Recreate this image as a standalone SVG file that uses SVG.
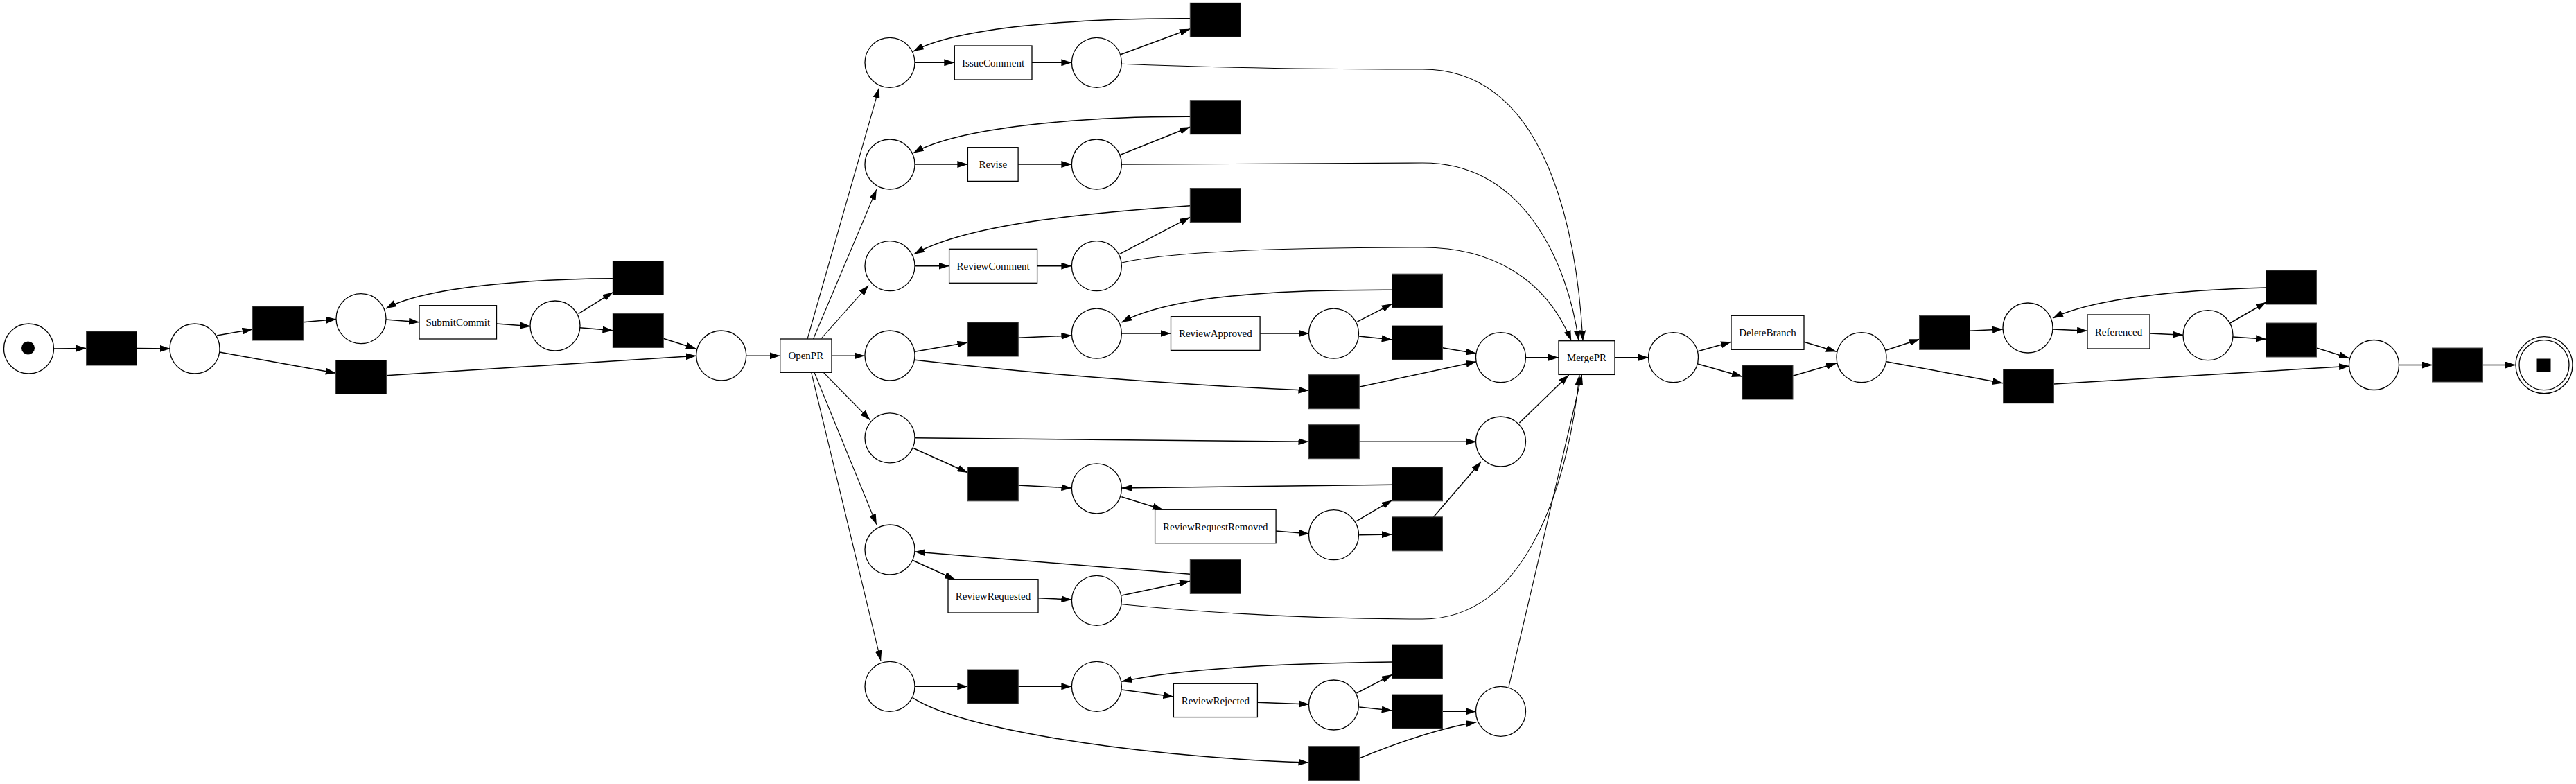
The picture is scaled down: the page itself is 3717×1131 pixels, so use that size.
<svg xmlns="http://www.w3.org/2000/svg" width="3717" height="1131" viewBox="0 0 3717 1131">
<defs>
<style>
.p{fill:#fff;stroke:#000;stroke-width:1.3}
.t{fill:#000;stroke:#444;stroke-width:1}
.b{fill:#fff;stroke:#000;stroke-width:1.3}
.l{font-family:"Liberation Serif","Times New Roman",serif;font-size:15px;fill:#000;text-anchor:middle}
.e{fill:none;stroke:#000;stroke-width:1.5;marker-end:url(#a)}
.f{fill:none;stroke:#000;stroke-width:1.1;marker-end:url(#a)}
</style>
<marker id="a" markerUnits="userSpaceOnUse" markerWidth="15" markerHeight="10" refX="15" refY="5" orient="auto"><path d="M0,0 L15,5 L0,10 z" fill="#000"/></marker>
</defs>
<rect width="3717" height="1131" fill="#fff"/>
<g id="connectors">
<path class="e" d="M77,503 L124.7,502.5"/>
<path class="e" d="M198,502.5 L245.7,503"/>
<path class="e" d="M313,484 L364.5,475"/>
<path class="e" d="M316.8,508 L484.8,538.3"/>
<path class="e" d="M437.8,464.7 L485.5,460.5"/>
<path class="e" d="M556.7,461 L605,464.7"/>
<path class="e" d="M716.5,467 L765.7,470.7"/>
<path class="e" d="M834.6,452.7 L884.5,421.7"/>
<path class="e" d="M836.8,472.7 L884.5,476.7"/>
<path class="e" d="M884.5,401.7 C800,402 620,410 557,445"/>
<path class="e" d="M957,488.3 L1004.8,503.3"/>
<path class="e" d="M557.4,541.7 L1004.8,513.3"/>
<path class="e" d="M1076.6,513.3 L1125.7,513.3"/>
<path class="f" d="M1165,489 L1268.6,126.7"/>
<path class="f" d="M1173.5,489 L1264.8,273.3"/>
<path class="f" d="M1184.4,489 L1253.3,411.7"/>
<path class="e" d="M1200,513.3 L1247.7,513.3"/>
<path class="f" d="M1188.3,537.3 L1255.6,606"/>
<path class="f" d="M1175,537.3 L1264.8,756.7"/>
<path class="f" d="M1170.7,537.3 L1271,953.3"/>
<path class="e" d="M1320,90.3 L1377.3,90.3"/>
<path class="e" d="M1489,90.3 L1546.4,90.3"/>
<path class="e" d="M1616.8,78.7 L1717,41.7"/>
<path class="e" d="M1717,26.7 C1550,26 1380,40 1318,74"/>
<path class="e" d="M1320,237 L1396.4,237"/>
<path class="e" d="M1469,237 L1546.4,237"/>
<path class="e" d="M1616.8,223.3 L1717,183.3"/>
<path class="e" d="M1717,168.3 C1550,168 1380,185 1318,220.7"/>
<path class="e" d="M1320,383.7 L1369.6,383.7"/>
<path class="e" d="M1496.7,383.7 L1546.4,383.7"/>
<path class="e" d="M1615.3,366.7 L1717,313.3"/>
<path class="e" d="M1717,296.7 C1600,305 1400,320 1319,366.7"/>
<path class="f" d="M1618.4,92.3 C1760,98 1900,100 2053,100 C2230,100 2275,330 2284,491.7"/>
<path class="f" d="M1618.4,237.3 C1800,236 1950,235 2053,235 C2200,235 2262,380 2278,491.7"/>
<path class="f" d="M1618.4,379 C1700,360 1900,357 2053,357 C2150,357 2230,400 2267.3,491.7"/>
<path class="e" d="M1320,507.3 L1396.4,494"/>
<path class="e" d="M1320,519.3 C1500,540 1700,555 1888.5,563.3"/>
<path class="e" d="M1469,487.3 L1546.4,484"/>
<path class="e" d="M1618.4,481 L1689.5,481"/>
<path class="e" d="M1818.1,481 L1889.3,481"/>
<path class="e" d="M1958,464.3 L2008.7,438.3"/>
<path class="e" d="M1961,485 L2008.7,490"/>
<path class="e" d="M2008.7,418.3 C1900,418 1700,420 1618.4,465"/>
<path class="e" d="M2081.4,501.7 L2130.3,510"/>
<path class="e" d="M1961.2,558.3 L2130.3,521.7"/>
<path class="e" d="M2200.8,515.7 L2249,515.7"/>
<path class="e" d="M1320,631.7 L1888.5,637.3"/>
<path class="e" d="M1961.2,637.3 L2130.3,637.3"/>
<path class="e" d="M2192.4,610 L2263.6,541"/>
<path class="e" d="M1318.4,646.7 L1396.4,681.7"/>
<path class="e" d="M1469,700 L1546.4,704"/>
<path class="e" d="M1618.4,716.7 L1678,735.3"/>
<path class="e" d="M1841,766 L1889.3,770"/>
<path class="e" d="M1957.4,751.7 L2008.7,721.7"/>
<path class="e" d="M1961.2,771.7 L2008.7,771"/>
<path class="e" d="M2008.7,699.3 L1618.4,704"/>
<path class="e" d="M2068.4,746 L2137.2,666"/>
<path class="e" d="M1316.8,808.3 L1378,836"/>
<path class="e" d="M1498.2,862.7 L1546.4,865"/>
<path class="e" d="M1618.4,859 L1717,838.3"/>
<path class="e" d="M1717,828.3 L1320,796"/>
<path class="f" d="M1618.4,871.7 C1800,890 1950,893 2053,893 C2210,893 2265,680 2279,541"/>
<path class="e" d="M1320,990.3 L1396.4,990.3"/>
<path class="e" d="M1469,990.3 L1546.4,990.3"/>
<path class="e" d="M1618.4,995 L1693.4,1005"/>
<path class="e" d="M1814.3,1013.3 L1889.3,1016"/>
<path class="e" d="M1957.4,1000 L2008.7,973.3"/>
<path class="e" d="M1961.2,1020 L2008.7,1025"/>
<path class="e" d="M2008.7,955 C1850,957 1700,965 1618.4,983.3"/>
<path class="e" d="M2081.4,1026.3 L2130.3,1026.3"/>
<path class="e" d="M1316.8,1006.7 C1400,1060 1700,1095 1888.5,1100"/>
<path class="e" d="M1961.2,1094 C2020,1070 2080,1050 2130.3,1041.7"/>
<path class="f" d="M2177,990.7 L2282.6,540.5"/>
<path class="e" d="M2330,515.7 L2379,515.7"/>
<path class="e" d="M2450,506.7 L2498,493.3"/>
<path class="e" d="M2450,525 L2514,543.3"/>
<path class="e" d="M2603,493.3 L2650,507.3"/>
<path class="e" d="M2587,542.3 L2650,524"/>
<path class="e" d="M2722,505 L2770,489.3"/>
<path class="e" d="M2722,521.7 L2890,552.7"/>
<path class="e" d="M2842,477.3 L2890,475"/>
<path class="e" d="M2962,475 L3012,477.3"/>
<path class="e" d="M3102,481 L3150,483.3"/>
<path class="e" d="M3218,466 L3270,436"/>
<path class="e" d="M3222,486 L3270,489.3"/>
<path class="e" d="M3270,415 C3150,418 3020,430 2962,459"/>
<path class="e" d="M3342,501.7 L3390,516.7"/>
<path class="e" d="M2964,554 L3390,528.3"/>
<path class="e" d="M3461,526.5 L3510,526.5"/>
<path class="e" d="M3582,526.5 L3630,526.5"/>
</g>
<g id="p_start"><circle class="p" cx="41.5" cy="503" r="36"/><circle cx="40.5" cy="502" r="9.5" fill="#000"/></g>
<g id="t1"><rect class="t" x="124.5" y="478" width="73" height="49"/></g>
<g id="p1"><circle class="p" cx="281" cy="503" r="36"/></g>
<g id="t2"><rect class="t" x="364.5" y="442" width="73" height="49"/></g>
<g id="t3"><rect class="t" x="484.5" y="519.5" width="73" height="49"/></g>
<g id="p2"><circle class="p" cx="521" cy="459.7" r="36"/></g>
<g id="n_submit"><rect class="b" x="605" y="440.7" width="111.5" height="48.3"/><text class="l" x="660.8" y="470">SubmitCommit</text></g>
<g id="p3"><circle class="p" cx="801" cy="470" r="36"/></g>
<g id="t4"><rect class="t" x="884.3" y="376.5" width="73" height="49"/></g>
<g id="t5"><rect class="t" x="884.3" y="452.5" width="73" height="49"/></g>
<g id="p4"><circle class="p" cx="1040.7" cy="513" r="36"/></g>
<g id="n_openpr"><rect class="b" x="1125.7" y="489" width="74.3" height="48.3"/><text class="l" x="1162.8" y="518">OpenPR</text></g>
<g id="p_ic_in"><circle class="p" cx="1284" cy="90.3" r="36"/></g>
<g id="n_issue"><rect class="b" x="1377.3" y="66" width="111.7" height="49"/><text class="l" x="1433.1" y="95.5">IssueComment</text></g>
<g id="p_ic_out"><circle class="p" cx="1582.4" cy="90.3" r="36"/></g>
<g id="t_ic"><rect class="t" x="1717.3" y="4.3" width="73" height="49"/></g>
<g id="p_rv_in"><circle class="p" cx="1284" cy="237" r="36"/></g>
<g id="n_revise"><rect class="b" x="1396.4" y="212.7" width="72.7" height="48.7"/><text class="l" x="1432.8" y="242">Revise</text></g>
<g id="p_rv_out"><circle class="p" cx="1582.4" cy="237" r="36"/></g>
<g id="t_rv"><rect class="t" x="1717.3" y="144.7" width="73" height="49"/></g>
<g id="p_rc_in"><circle class="p" cx="1284" cy="383.7" r="36"/></g>
<g id="n_rc"><rect class="b" x="1369.6" y="359.3" width="127" height="49"/><text class="l" x="1433.1" y="389">ReviewComment</text></g>
<g id="p_rc_out"><circle class="p" cx="1582.4" cy="383.7" r="36"/></g>
<g id="t_rc"><rect class="t" x="1717.3" y="271.5" width="73" height="49"/></g>
<g id="p_ra"><circle class="p" cx="1284" cy="513" r="36"/></g>
<g id="t_ra_e"><rect class="t" x="1396.3" y="465" width="73" height="49"/></g>
<g id="p_ra_in"><circle class="p" cx="1582.4" cy="481.2" r="36"/></g>
<g id="n_ra"><rect class="b" x="1689.5" y="456.7" width="128.6" height="48.7"/><text class="l" x="1753.8" y="486">ReviewApproved</text></g>
<g id="p_ra_out"><circle class="p" cx="1924.5" cy="481.2" r="36"/></g>
<g id="t_ra_top"><rect class="t" x="2008.5" y="395.2" width="73" height="49"/></g>
<g id="t_ra_mid"><rect class="t" x="2008.5" y="470" width="73" height="49"/></g>
<g id="t_ra_skip"><rect class="t" x="1888.3" y="540.7" width="73" height="49"/></g>
<g id="p_ra_m"><circle class="p" cx="2165.5" cy="515.7" r="36"/></g>
<g id="p_rrr"><circle class="p" cx="1284" cy="631.8" r="36"/></g>
<g id="t_rrr_skip"><rect class="t" x="1888.3" y="612.7" width="73" height="49"/></g>
<g id="p_rrr_m"><circle class="p" cx="2165.5" cy="637" r="36"/></g>
<g id="t_rrr_e"><rect class="t" x="1396.3" y="673.8" width="73" height="49"/></g>
<g id="p_rrr_in"><circle class="p" cx="1582.4" cy="704.8" r="36"/></g>
<g id="t_rrr_top"><rect class="t" x="2008.5" y="673.8" width="73" height="49"/></g>
<g id="n_rrr"><rect class="b" x="1666.6" y="735.3" width="174.5" height="48.4"/><text class="l" x="1753.8" y="764.5">ReviewRequestRemoved</text></g>
<g id="p_rrr_out"><circle class="p" cx="1924.5" cy="771.7" r="36"/></g>
<g id="t_rrr_mid"><rect class="t" x="2008.5" y="745.8" width="73" height="49"/></g>
<g id="p_rr"><circle class="p" cx="1284" cy="793" r="36"/></g>
<g id="n_rr"><rect class="b" x="1368" y="835.7" width="130" height="48.3"/><text class="l" x="1433" y="865">ReviewRequested</text></g>
<g id="p_rr_out"><circle class="p" cx="1582.4" cy="866.3" r="36"/></g>
<g id="t_rr"><rect class="t" x="1717.3" y="807.3" width="73" height="49"/></g>
<g id="p_rj"><circle class="p" cx="1284" cy="990.3" r="36"/></g>
<g id="t_rj_e"><rect class="t" x="1396.3" y="966" width="73" height="49"/></g>
<g id="p_rj_in"><circle class="p" cx="1582.4" cy="990.3" r="36"/></g>
<g id="n_rj"><rect class="b" x="1693.4" y="986.3" width="121" height="48.3"/><text class="l" x="1753.8" y="1015.5">ReviewRejected</text></g>
<g id="p_rj_out"><circle class="p" cx="1924.5" cy="1017" r="36"/></g>
<g id="t_rj_top"><rect class="t" x="2008.5" y="930" width="73" height="49"/></g>
<g id="t_rj_mid"><rect class="t" x="2008.5" y="1002" width="73" height="49"/></g>
<g id="p_rj_m"><circle class="p" cx="2165.5" cy="1026.3" r="36"/></g>
<g id="t_rj_skip"><rect class="t" x="1888.3" y="1076.7" width="73" height="49"/></g>
<g id="n_merge"><rect class="b" x="2249" y="491.7" width="81" height="48.7"/><text class="l" x="2289.5" y="521">MergePR</text></g>
<g id="p_m"><circle class="p" cx="2414.5" cy="515.7" r="36"/></g>
<g id="n_db"><rect class="b" x="2498" y="455.3" width="105" height="49"/><text class="l" x="2550.5" y="485">DeleteBranch</text></g>
<g id="t_db"><rect class="t" x="2514" y="527" width="73" height="49"/></g>
<g id="p_db"><circle class="p" cx="2686" cy="515.7" r="36"/></g>
<g id="t_ref_e"><rect class="t" x="2769.5" y="455.3" width="73" height="49"/></g>
<g id="p_ref_in"><circle class="p" cx="2926" cy="473" r="36"/></g>
<g id="n_ref"><rect class="b" x="3012" y="454" width="90" height="49"/><text class="l" x="3057" y="483.5">Referenced</text></g>
<g id="p_ref_out"><circle class="p" cx="3186" cy="483.7" r="36"/></g>
<g id="t_ref_top"><rect class="t" x="3269.5" y="390" width="73" height="49"/></g>
<g id="t_ref_mid"><rect class="t" x="3269.5" y="466" width="73" height="49"/></g>
<g id="t_ref_skip"><rect class="t" x="2890.5" y="532.7" width="73" height="49"/></g>
<g id="p_fm"><circle class="p" cx="3425.5" cy="526.5" r="36"/></g>
<g id="t_last"><rect class="t" x="3509.5" y="502" width="73" height="49"/></g>
<g id="p_end"><circle class="p" cx="3671" cy="526.7" r="41"/><circle class="p" cx="3671" cy="526.7" r="36"/><rect x="3660.5" y="517.5" width="20" height="19" fill="#000"/></g>
</svg>
